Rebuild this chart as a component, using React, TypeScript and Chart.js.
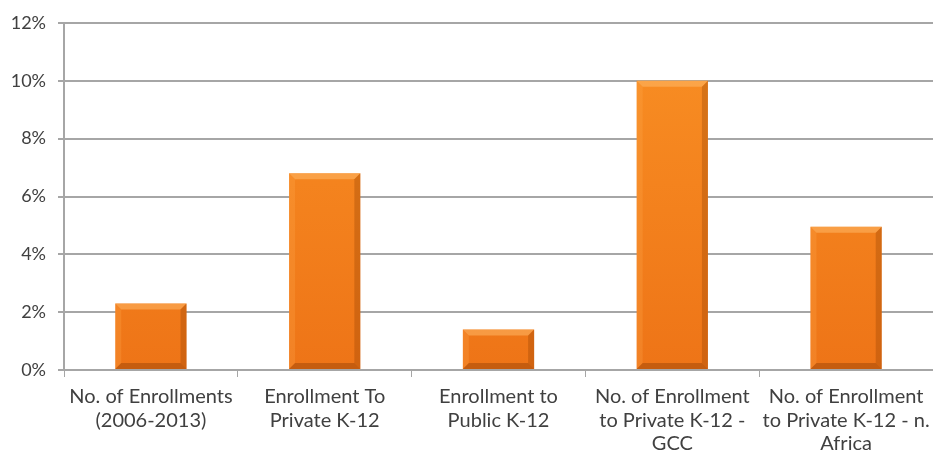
import React, { useEffect, useRef } from "react";
import { Chart, registerables } from "chart.js";

Chart.register(...registerables);

const categories: string[][] = [
  ["No. of Enrollments", "(2006-2013)"],
  ["Enrollment To", "Private K-12"],
  ["Enrollment to", "Public K-12"],
  ["No. of Enrollment", "to Private K-12 -", "GCC"],
  ["No. of Enrollment", "to Private K-12 - n.", "Africa"],
];
const values: number[] = [0.023, 0.068, 0.014, 0.1, 0.0495];
const yTicks: number[] = [0, 0.02, 0.04, 0.06, 0.08, 0.1, 0.12];

const bevelPlugin = {
  id: "bevel",
  afterDatasetsDraw(chart: any) {
    const ctx = chart.ctx;
    const meta = chart.getDatasetMeta(0);
    meta.data.forEach((bar: any) => {
      const { x, y, base, width } = bar.getProps(["x", "y", "base", "width"], true);
      const l = x - width / 2;
      const r = x + width / 2;
      const t = y;
      const b = base;
      const bv = Math.min(6, (b - t) / 3);
      ctx.save();
      ctx.fillStyle = "rgba(255,190,110,0.5)";
      ctx.beginPath();
      ctx.moveTo(l, t);
      ctx.lineTo(r, t);
      ctx.lineTo(r - bv, t + bv);
      ctx.lineTo(l + bv, t + bv);
      ctx.closePath();
      ctx.fill();
      ctx.fillStyle = "rgba(255,170,80,0.25)";
      ctx.beginPath();
      ctx.moveTo(l, t);
      ctx.lineTo(l + bv, t + bv);
      ctx.lineTo(l + bv, b - bv);
      ctx.lineTo(l, b);
      ctx.closePath();
      ctx.fill();
      ctx.fillStyle = "rgba(140,60,0,0.3)";
      ctx.beginPath();
      ctx.moveTo(r, t);
      ctx.lineTo(r - bv, t + bv);
      ctx.lineTo(r - bv, b - bv);
      ctx.lineTo(r, b);
      ctx.closePath();
      ctx.fill();
      ctx.fillStyle = "rgba(120,50,0,0.35)";
      ctx.beginPath();
      ctx.moveTo(l, b);
      ctx.lineTo(r, b);
      ctx.lineTo(r - bv, b - bv);
      ctx.lineTo(l + bv, b - bv);
      ctx.closePath();
      ctx.fill();
      ctx.restore();
    });
  },
};

export default function App() {
  const ref = useRef<HTMLCanvasElement | null>(null);
  useEffect(() => {
    if (!ref.current) return;
    const chart = new Chart(ref.current, {
      type: "bar",
      data: {
        labels: categories,
        datasets: [
          {
            data: values,
            backgroundColor: (c: any) => {
              const area = c.chart.chartArea;
              if (!area) return "#F5841F";
              const g = c.chart.ctx.createLinearGradient(0, area.top, 0, area.bottom);
              g.addColorStop(0, "#F99024");
              g.addColorStop(1, "#EE7417");
              return g;
            },
            borderWidth: 0,
            categoryPercentage: 1,
            barPercentage: 0.41,
          },
        ],
      },
      options: {
        animation: false,
        responsive: false,
        maintainAspectRatio: false,
        layout: { padding: { top: 23, right: 0, left: 0, bottom: 0 } },
        plugins: { legend: { display: false }, tooltip: { enabled: false } },
        scales: {
          x: {
            offset: true,
            grid: {
              offset: true,
              display: true,
              drawOnChartArea: false,
              tickLength: 7,
              color: "#A6A6A6",
              lineWidth: 1,
            },
            border: { color: "#A6A6A6", width: 2 },
            ticks: {
              color: "#404040",
              font: { family: "Lato", size: 20, lineHeight: 1.18 },
              maxRotation: 0,
              autoSkip: false,
              padding: 8,
            },
            afterFit: (s: any) => {
              s.height = 83;
              s.paddingRight = 0;
              s.paddingLeft = 0;
            },
          },
          y: {
            min: 0,
            max: 0.12,
            afterBuildTicks: (s: any) => {
              s.ticks = yTicks.map((v) => ({ value: v }));
            },
            grid: {
              color: "#A6A6A6",
              lineWidth: 2,
              tickLength: 6,
            },
            border: { color: "#A6A6A6", width: 2 },
            ticks: {
              color: "#404040",
              font: { family: "Lato", size: 18 },
              padding: 12,
              callback: (v: any) => Math.round(Number(v) * 100) + "%",
            },
            afterFit: (s: any) => {
              s.width = 64;
            },
          },
        },
      },
      plugins: [bevelPlugin],
    });
    return () => chart.destroy();
  }, []);
  return (
    <div style={{ position: "fixed", left: 0, top: 0, width: 933, height: 453, background: "#fff" }}>
      <canvas ref={ref} width={933} height={453} style={{ width: 933, height: 453 }} />
    </div>
  );
}
